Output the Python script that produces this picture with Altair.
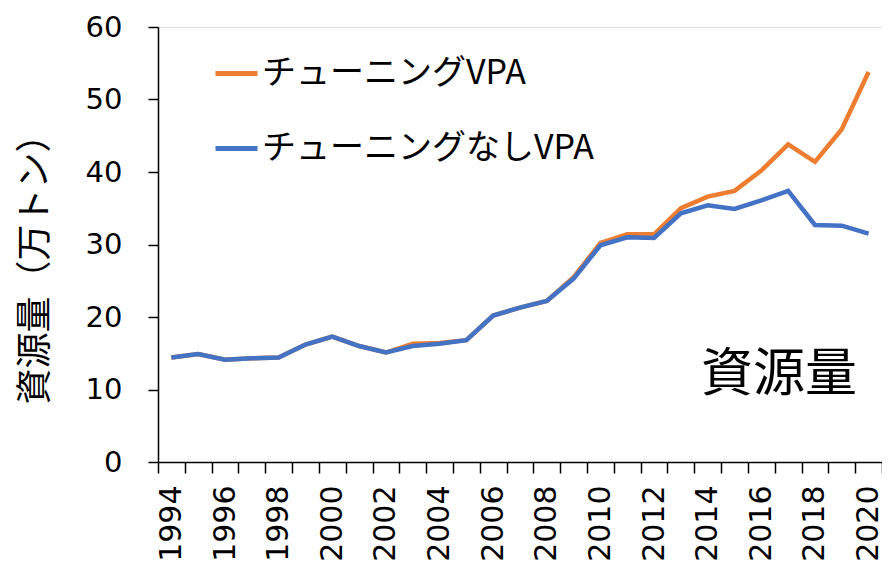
import altair as alt
import pandas as pd

years = list(range(1994, 2021))
tuned = [14.4, 14.9, 14.1, 14.3, 14.4, 16.2, 17.3, 16.0, 15.1, 16.3, 16.4, 16.8, 20.2, 21.3,
         22.2, 25.5, 30.2, 31.4, 31.4, 35.0, 36.6, 37.4, 40.2, 43.8, 41.4, 45.9, 53.8]
untuned = [14.4, 14.9, 14.1, 14.3, 14.4, 16.2, 17.3, 16.0, 15.1, 16.0, 16.3, 16.8, 20.2, 21.3,
           22.2, 25.3, 29.9, 31.0, 30.9, 34.3, 35.4, 34.9, 36.1, 37.4, 32.7, 32.6, 31.5]
series_names = ["チューニングVPA", "チューニングなしVPA"]
series_colors = ["#ED7D31", "#4472C4"]
y_ticks = [0, 10, 20, 30, 40, 50, 60]
x_boundaries = [y - 0.5 for y in years] + [years[-1] + 0.5]

df_t = pd.DataFrame({"year": years, "value": tuned, "series": series_names[0]})
df_u = pd.DataFrame({"year": years, "value": untuned, "series": series_names[1]})

W = 724
H = 435

x_enc = alt.X(
    "year:Q",
    scale=alt.Scale(domain=[x_boundaries[0], x_boundaries[-1]], nice=False, zero=False),
    axis=alt.Axis(
        values=x_boundaries,
        labelExpr="(datum.value + 0.5) % 2 == 0 ? '' + (datum.value + 0.5) : ''",
        labelOffset=W / len(years) / 2,
        labelAngle=-90,
        labelAlign="right",
        labelBaseline="middle",
        labelFlush=False,
        labelOverlap=False,
        labelPadding=12,
        labelFont="DejaVu Sans",
        labelFontSize=30,
        labelColor="black",
        tickSize=11,
        tickColor="black",
        tickWidth=1.5,
        domainColor="black",
        domainWidth=1.5,
        grid=False,
        title=None,
    ),
)
y_enc = alt.Y(
    "value:Q",
    scale=alt.Scale(domain=[0, 60], nice=False),
    axis=alt.Axis(
        values=y_ticks,
        labelFont="DejaVu Sans",
        labelFontSize=29,
        labelColor="black",
        labelPadding=26,
        tickSize=10,
        tickColor="black",
        tickWidth=1.5,
        domainColor="black",
        domainWidth=1.5,
        grid=False,
        title="資源量（万トン）",
        titleFont="Noto Sans CJK JP",
        titleFontSize=36,
        titleFontWeight="normal",
        titleColor="black",
        titleAngle=-90,
        titleAlign="center",
        titleBaseline="middle",
        titleX=-123,
        titleY=233,
    ),
)
color_enc = alt.Color(
    "series:N",
    scale=alt.Scale(domain=series_names, range=series_colors),
    legend=alt.Legend(
        orient="none",
        legendX=55,
        legendY=23,
        title=None,
        symbolType="stroke",
        symbolSize=1764,
        symbolStrokeWidth=5,
        labelFont="Noto Sans CJK JP",
        labelFontSize=34,
        labelColor="black",
        labelOffset=2,
        labelLimit=600,
        rowPadding=34,
    ),
)

line_t = alt.Chart(df_t).mark_line(strokeWidth=4.5).encode(x=x_enc, y=y_enc, color=color_enc)
line_u = alt.Chart(df_u).mark_line(strokeWidth=4.5).encode(x=x_enc, y=y_enc, color=color_enc)

label_df = pd.DataFrame({"t": ["資源量"]})
annot = alt.Chart(label_df).mark_text(
    font="Noto Sans CJK JP", fontSize=52, color="black", align="center", baseline="middle"
).encode(text="t:N", x=alt.value(621), y=alt.value(348))

chart = alt.layer(line_t, line_u, annot).properties(
    width=W,
    height=H,
    autosize=alt.AutoSizeParams(type="none"),
    padding={"left": 150, "top": 19, "right": 0, "bottom": 101},
).configure_view(stroke=None).configure(background="white")

chart.save("out.html", embed_options={"renderer": "svg", "actions": False})
